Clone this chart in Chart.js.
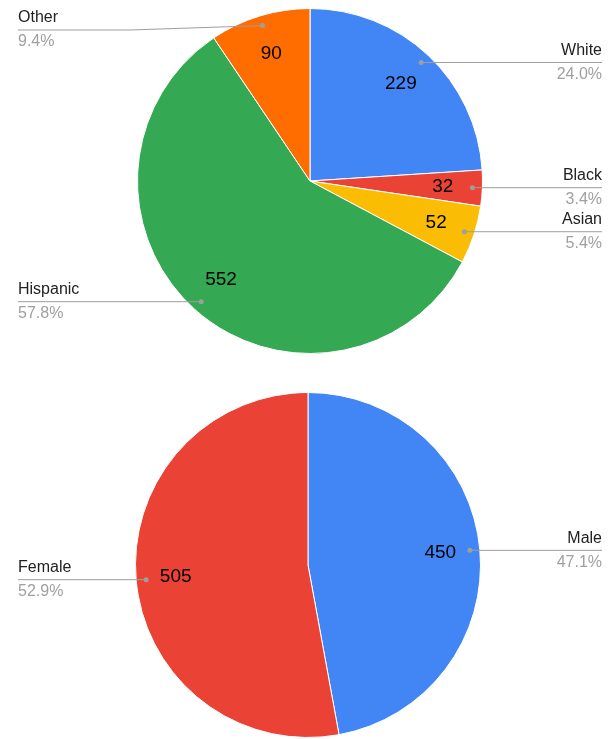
<!DOCTYPE html>
<html lang="en">
<head>
  <meta charset="UTF-8" />
  <title>Race and gender breakdown</title>
  <script src="https://cdn.jsdelivr.net/npm/chart.js"></script>
  <style>
    body {
      margin: 0;
      background: #fff;
      font-family: 'Liberation Sans', Arial, sans-serif;
    }
    .wrap {
      position: absolute;
      left: 0;
      width: 609px;
    }
    #top { top: 0; height: 370px; }
    #bottom { top: 370px; height: 369px; }
  </style>
</head>
<body>
  <div class="wrap" id="top"><canvas id="raceChart"></canvas></div>
  <div class="wrap" id="bottom"><canvas id="genderChart"></canvas></div>

  <script>
    // data
    const raceLabels = ['White', 'Black', 'Asian', 'Hispanic', 'Other'];
    const raceValues = [229, 32, 52, 552, 90];
    const raceColors = ['#4285f4', '#ea4335', '#fbbc04', '#34a853', '#ff6d01'];

    const genderLabels = ['Male', 'Female'];
    const genderValues = [450, 505];
    const genderColors = ['#4285f4', '#ea4335'];

    // google-charts style labels: value inside, name + percent on a leader line
    const leaderLabels = {
      id: 'leaderLabels',
      afterDatasetsDraw(chart, args, opts) {
        const ctx = chart.ctx;
        const meta = chart.getDatasetMeta(0);
        const values = chart.data.datasets[0].data;
        const total = values.reduce((a, b) => a + b, 0);
        const area = chart.chartArea;
        ctx.save();
        meta.data.forEach((arc, i) => {
          const p = arc.getProps(['x', 'y', 'startAngle', 'endAngle', 'outerRadius'], true);
          const mid = (p.startAngle + p.endAngle) / 2;
          const cos = Math.cos(mid), sin = Math.sin(mid);

          // value inside slice
          const vr = p.outerRadius * 0.77;
          ctx.fillStyle = '#000';
          ctx.font = '19px "Liberation Sans", Arial, sans-serif';
          ctx.textAlign = 'center';
          ctx.textBaseline = 'middle';
          ctx.fillText(values[i], p.x + cos * vr, p.y + sin * vr);

          // leader line
          const dr = p.outerRadius - 10;
          const dx = p.x + cos * dr, dy = p.y + sin * dr;
          const right = cos >= 0;
          const ly = Math.max(dy, opts.minY || 0);
          const endX = right ? chart.width - 7 : 18;
          ctx.strokeStyle = '#9e9e9e';
          ctx.lineWidth = 1;
          ctx.beginPath();
          ctx.moveTo(dx, dy);
          if (ly !== dy) {
            const bx = right ? area.right + 7 : area.left - 7;
            ctx.lineTo(bx, ly);
          }
          ctx.lineTo(endX, ly);
          ctx.stroke();
          ctx.fillStyle = '#9e9e9e';
          ctx.beginPath();
          ctx.arc(dx, dy, 2.5, 0, Math.PI * 2);
          ctx.fill();

          // name and percent
          ctx.textAlign = right ? 'right' : 'left';
          ctx.fillStyle = '#222';
          ctx.font = '16px "Liberation Sans", Arial, sans-serif';
          ctx.fillText(chart.data.labels[i], endX, ly - 12);
          ctx.fillStyle = '#a0a0a0';
          ctx.fillText((values[i] / total * 100).toFixed(1) + '%', endX, ly + 12);
        });
        ctx.restore();
      }
    };

    function makePie(id, labels, values, colors, padding, minY) {
      return new Chart(document.getElementById(id), {
        type: 'pie',
        data: {
          labels: labels,
          datasets: [{
            data: values,
            backgroundColor: colors,
            borderColor: '#fff',
            borderWidth: 1
          }]
        },
        options: {
          responsive: true,
          maintainAspectRatio: false,
          animation: false,
          layout: { padding: padding },
          plugins: {
            legend: { display: false },
            tooltip: { enabled: false },
            leaderLabels: { minY: minY }
          }
        },
        plugins: [leaderLabels]
      });
    }

    makePie('raceChart', raceLabels, raceValues, raceColors,
      { left: 137, right: 126, top: 8, bottom: 16 }, 30);
    makePie('genderChart', genderLabels, genderValues, genderColors,
      { left: 135, right: 128, top: 22, bottom: 1 }, 0);
  </script>
</body>
</html>
